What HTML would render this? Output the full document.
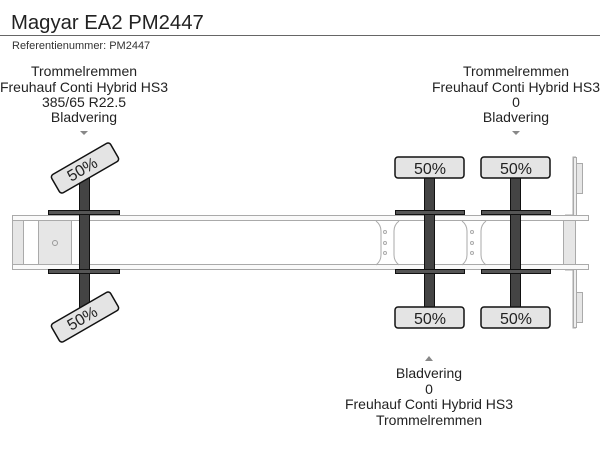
<!DOCTYPE html>
<html><head><style>body{margin:0;background:#fff}svg{display:block}</style></head>
<body>
<svg width="600" height="450" xmlns="http://www.w3.org/2000/svg" font-family="Liberation Sans, sans-serif">
<text x="11" y="29" font-size="20.3" fill="#222">Magyar EA2 PM2447</text>
<line x1="0" y1="35.5" x2="600" y2="35.5" stroke="#666" stroke-width="1"/>
<text x="12" y="49" font-size="11" fill="#333">Referentienummer: PM2447</text>
<g font-size="14" fill="#222" text-anchor="middle">
<text x="84" y="76">Trommelremmen</text>
<text x="84" y="92">Freuhauf Conti Hybrid HS3</text>
<text x="84" y="107">385/65 R22.5</text>
<text x="84" y="122">Bladvering</text>
<text x="516" y="76">Trommelremmen</text>
<text x="516" y="92">Freuhauf Conti Hybrid HS3</text>
<text x="516" y="107">0</text>
<text x="516" y="122">Bladvering</text>
<text x="429" y="378">Bladvering</text>
<text x="429" y="394">0</text>
<text x="429" y="409">Freuhauf Conti Hybrid HS3</text>
<text x="429" y="425">Trommelremmen</text>
</g>
<polygon points="80,131 88,131 84,135" fill="#888"/>
<polygon points="512,131 520,131 516,135" fill="#888"/>
<polygon points="425,361 433,361 429,356" fill="#888"/>
<g stroke="#aaa" stroke-width="1" fill="#fafafa">
<rect x="12.5" y="215.5" width="576" height="5"/>
<rect x="12.5" y="264.5" width="576" height="5"/>
</g>
<rect x="12.5" y="220.5" width="11" height="44" fill="#e6e6e6" stroke="#aaa"/>
<rect x="38.5" y="220.5" width="33" height="44" fill="#e6e6e6" stroke="#aaa"/>
<circle cx="55" cy="243" r="2.5" fill="none" stroke="#999"/>
<g fill="none" stroke="#aaa">
<path d="M376,221 q5,4 5,10 v24 q0,6 -5,10"/>
<path d="M399,221 q-5,4 -5,10 v24 q0,6 5,10"/>
<path d="M462,221 q5,4 5,10 v24 q0,6 -5,10"/>
<path d="M486,221 q-5,4 -5,10 v24 q0,6 5,10"/>
<circle cx="385" cy="232" r="1.5"/><circle cx="385" cy="243" r="1.5"/><circle cx="385" cy="253" r="1.5"/>
<circle cx="472" cy="232" r="1.5"/><circle cx="472" cy="243" r="1.5"/><circle cx="472" cy="253" r="1.5"/>
</g>
<rect x="563.5" y="220.5" width="12" height="44" fill="#e6e6e6" stroke="#aaa"/>
<path d="M565,215 h8 v-58 h3 M565,270 h8 v58 h3" fill="none" stroke="#aaa"/>
<rect x="573.5" y="157.5" width="3" height="58" fill="#eee" stroke="#aaa"/>
<rect x="573.5" y="269.5" width="3" height="58" fill="#eee" stroke="#aaa"/>
<rect x="576.5" y="163.5" width="6" height="30" fill="#e6e6e6" stroke="#aaa"/>
<rect x="576.5" y="292.5" width="6" height="30" fill="#e6e6e6" stroke="#aaa"/>
<g stroke="#111" stroke-width="1">
<rect x="79.5" y="172" width="10" height="146" fill="#444"/>
<rect x="424.5" y="172" width="10" height="140" fill="#444"/>
<rect x="510.5" y="172" width="10" height="140" fill="#444"/>
<rect x="48.5" y="210.5" width="71" height="4" fill="#555"/>
<rect x="48.5" y="269.5" width="71" height="4" fill="#555"/>
<rect x="395.5" y="210.5" width="69" height="4" fill="#555"/>
<rect x="395.5" y="269.5" width="69" height="4" fill="#555"/>
<rect x="481.5" y="210.5" width="69" height="4" fill="#555"/>
<rect x="481.5" y="269.5" width="69" height="4" fill="#555"/>
</g>
<g stroke="#111" stroke-width="1.5" fill="#e4e4e4">
<rect x="395" y="157" width="69" height="21" rx="3"/>
<rect x="481" y="157" width="69" height="21" rx="3"/>
<rect x="395" y="307" width="69" height="21" rx="3"/>
<rect x="481" y="307" width="69" height="21" rx="3"/>
<rect x="-34" y="-10.5" width="68" height="21" rx="3" transform="translate(85,168) rotate(-30)"/>
<rect x="-34" y="-10.5" width="68" height="21" rx="3" transform="translate(85,317) rotate(-30)"/>
</g>
<g font-size="16" fill="#222" text-anchor="middle">
<text x="430" y="174">50%</text>
<text x="516" y="174">50%</text>
<text x="430" y="324">50%</text>
<text x="516" y="324">50%</text>
<text transform="translate(85,174) rotate(-30)">50%</text>
<text transform="translate(85,323) rotate(-30)">50%</text>
</g>
</svg>
</body></html>
